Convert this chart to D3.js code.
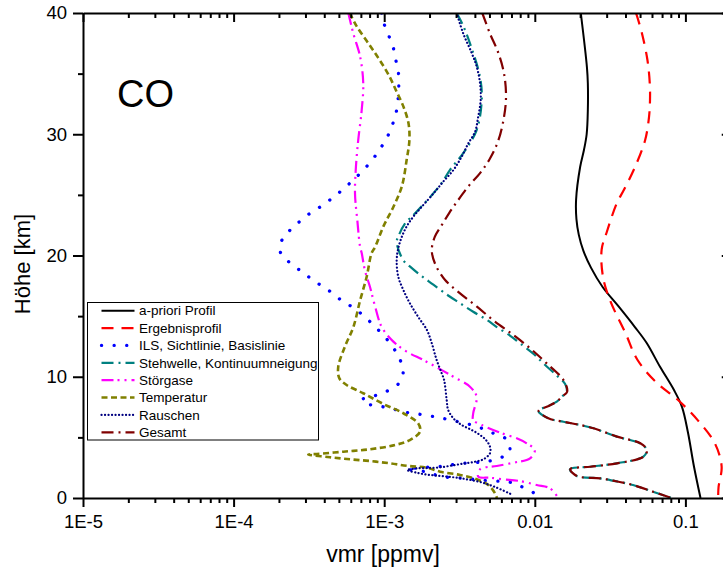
<!DOCTYPE html>
<html>
<head>
<meta charset="utf-8">
<script src="https://cdn.jsdelivr.net/npm/d3@7/dist/d3.min.js"></script>
<style>
  body { margin: 0; background: #fff; }
  svg { display: block; font-family: Arial, "Liberation Sans", sans-serif; }
</style>
</head>
<body>
<div class="render"></div>
<script>
"use strict";

// [Höhe km, vmr ppmv]
var aprioriProfil = [[0, 0.126], [2.6, 0.114], [5.4, 0.104], [7.5, 0.095], [8.9, 0.084], [10.8, 0.068], [12.8, 0.0552], [14.1, 0.0462], [15.8, 0.036], [17.4, 0.0282], [19.0, 0.0236], [20.4, 0.0210], [21.7, 0.0196], [23.0, 0.0189], [24.6, 0.0188], [27.3, 0.020], [28.7, 0.0212], [30.0, 0.0221], [32.0, 0.0225], [34.2, 0.0225], [35.5, 0.0222], [40, 0.0202]];

var ergebnisprofil = [[0, 0.165], [0.9, 0.166], [2.6, 0.174], [4.5, 0.157], [6.4, 0.121], [8.1, 0.089], [9.5, 0.0645], [11.4, 0.048], [13.6, 0.040], [16.3, 0.0316], [18.2, 0.0284], [20.5, 0.0278], [21.9, 0.030], [24.3, 0.035], [25.4, 0.039], [27.3, 0.0463], [29.5, 0.054], [31.4, 0.0573], [32.8, 0.0582], [34.2, 0.058], [36.1, 0.056], [38.4, 0.0513], [40, 0.047]];

var ils = [[40, 0.00096], [39.4, 0.00098], [38.4, 0.00105], [37.3, 0.00114], [36.2, 0.00119], [35.2, 0.00124], [34.2, 0.00125], [33.1, 0.00124], [32.0, 0.00121], [31.0, 0.00115], [29.9, 0.00106], [28.8, 0.00094], [27.7, 0.00081], [26.6, 0.00067], [25.7, 0.00056], [24.8, 0.00046], [24.0, 0.000375], [23.3, 0.000307], [22.4, 0.000253], [21.5, 0.000214], [20.6, 0.000203], [20.0, 0.000209], [19.4, 0.000237], [18.6, 0.000288], [17.8, 0.000353], [17.1, 0.00043], [16.3, 0.00052], [15.6, 0.00064], [14.7, 0.00078], [13.7, 0.00094], [12.6, 0.00112], [11.6, 0.00125], [10.6, 0.00134], [9.5, 0.00126], [8.8, 0.00104], [8.4, 0.00085], [8.1, 0.00071], [7.8, 0.00075], [7.6, 0.00091], [7.4, 0.0011], [7.1, 0.00135], [6.95, 0.00164], [6.76, 0.00202], [6.57, 0.00245], [6.33, 0.0030], [6.1, 0.00362], [5.75, 0.00444], [5.34, 0.0053], [4.78, 0.00657], [3.74, 0.00677], [3.22, 0.00559], [2.97, 0.0046], [2.91, 0.00371], [2.8, 0.00303], [2.64, 0.00253], [2.58, 0.00209], [2.47, 0.00165], [2.39, 0.00141], [2.25, 0.00166], [2.12, 0.00202], [1.81, 0.00228], [1.65, 0.00319], [1.4, 0.00518], [1.34, 0.00667], [0.99, 0.00797], [0.44, 0.00978], [0.1, 0.0101]];

var stehwelle = [[40, 0.00303], [39.0, 0.00333], [37.5, 0.00371], [34.7, 0.00433], [32.8, 0.00444], [30.35, 0.00411], [28.45, 0.00335], [27.05, 0.00273], [25.8, 0.00235], [23.6, 0.00164], [22.6, 0.00137], [21.55, 0.00124], [21.1, 0.00121], [19.6, 0.00134], [19.1, 0.00148], [18.3, 0.00177], [17.6, 0.00212], [16.7, 0.00266], [16.06, 0.00319], [15.36, 0.0039], [14.7, 0.00479], [14.1, 0.00559], [13.4, 0.00684], [12.76, 0.00797], [11.9, 0.00978], [11.1, 0.0114], [10.1, 0.014], [9.4, 0.0159], [8.77, 0.0163], [8.35, 0.0151], [7.94, 0.014], [7.53, 0.012], [7.2, 0.01055], [6.57, 0.0123], [6.29, 0.0155], [6.02, 0.020], [5.75, 0.0245], [5.06, 0.035], [4.51, 0.0499], [3.96, 0.0554], [3.41, 0.0526], [2.86, 0.035], [2.58, 0.0233], [2.37, 0.0171], [1.81, 0.019], [1.62, 0.0271], [1.43, 0.033], [1.07, 0.0449], [0.52, 0.0609], [0, 0.081]];

var stoergase = [[40, 0.000578], [38.3, 0.000624], [36.4, 0.000692], [34.2, 0.000726], [32.0, 0.000709], [29.5, 0.000672], [27.3, 0.000649], [25.1, 0.00064], [22.9, 0.000663], [20.7, 0.000692], [20.2, 0.000709], [18.8, 0.000744], [17.4, 0.000805], [15.8, 0.00087], [14.1, 0.000963], [12.9, 0.00115], [12.07, 0.00141], [11.38, 0.00182], [10.7, 0.00229], [10.0, 0.00288], [9.18, 0.00371], [8.35, 0.00411], [6.99, 0.0039], [6.43, 0.0039], [6.02, 0.00444], [5.39, 0.00587], [4.92, 0.00759], [4.51, 0.00883], [3.96, 0.0100], [3.27, 0.0093], [2.91, 0.00721], [2.64, 0.00559], [2.37, 0.00433], [1.76, 0.00421], [1.67, 0.00504], [1.54, 0.00619], [1.40, 0.00797], [1.07, 0.0103], [0.8, 0.0126], [0, 0.0143]];

var temperatur = [[40, 0.00059], [38.9, 0.000657], [37.5, 0.000785], [36.3, 0.000913], [34.9, 0.00107], [33.5, 0.00121], [32.3, 0.00134], [30.9, 0.00145], [29.5, 0.00147], [27.9, 0.00141], [25.7, 0.00131], [24.0, 0.00115], [22.4, 0.000988], [20.7, 0.00087], [20.2, 0.000825], [18.25, 0.000765], [16.3, 0.000692], [14.1, 0.000624], [12.5, 0.000549], [10.8, 0.000495], [9.87, 0.000504], [9.32, 0.000563], [8.64, 0.000726], [7.75, 0.000988], [6.99, 0.00134], [6.16, 0.00168], [5.47, 0.00173], [4.78, 0.00148], [4.37, 0.00118], [4.02, 0.000805], [3.82, 0.000535], [3.63, 0.000357], [3.59, 0.000313], [3.36, 0.000436], [3.19, 0.000593], [3.05, 0.000805], [2.86, 0.00109], [2.64, 0.00145], [2.5, 0.00192], [2.17, 0.00235], [1.9, 0.00319], [1.54, 0.00411], [1.07, 0.00491], [0.39, 0.00544], [0, 0.0056]];

var rauschen = [[40, 0.00303], [38.3, 0.00335], [36.7, 0.00381], [35.6, 0.00411], [34.2, 0.00433], [32.8, 0.00437], [31.45, 0.00421], [30.2, 0.00401], [29.25, 0.00362], [28.15, 0.00327], [27.05, 0.00288], [26.1, 0.00247], [25.1, 0.00212], [24.0, 0.00177], [23.2, 0.00156], [22.4, 0.00141], [21.55, 0.00131], [20.6, 0.00124], [19.6, 0.00121], [18.25, 0.00124], [17.15, 0.00134], [16.06, 0.00148], [14.95, 0.00168], [13.86, 0.00192], [12.76, 0.00207], [11.38, 0.00223], [10.28, 0.00241], [9.73, 0.0025], [8.08, 0.0026], [7.26, 0.00266], [6.57, 0.00288], [6.02, 0.00327], [5.61, 0.00381], [5.2, 0.00433], [4.78, 0.00474], [4.23, 0.00504], [3.69, 0.00504], [3.19, 0.00455], [2.99, 0.00401], [2.86, 0.00344], [2.7, 0.00288], [2.53, 0.00235], [2.47, 0.00195], [2.45, 0.00168], [2.31, 0.00142], [2.06, 0.00168], [1.9, 0.00202], [1.81, 0.00241], [1.71, 0.00288], [1.57, 0.00344], [1.32, 0.00433], [0.91, 0.00544], [0.3, 0.0070]];

var gesamt = [[40, 0.00448], [38.3, 0.00504], [36.7, 0.00573], [35.0, 0.00625], [33.1, 0.00644], [31.45, 0.00625], [29.5, 0.00573], [28.0, 0.00504], [26.8, 0.00433], [25.7, 0.00362], [24.4, 0.00303], [23.5, 0.0027], [22.5, 0.00241], [21.55, 0.00217], [20.45, 0.00207], [19.36, 0.00217], [18.0, 0.00253], [17.0, 0.0031], [15.8, 0.00411], [14.54, 0.00544], [13.44, 0.00721], [12.35, 0.0093], [11.1, 0.012], [9.73, 0.0155], [8.77, 0.0164], [8.35, 0.0151], [7.94, 0.014], [7.53, 0.012], [7.2, 0.0106], [6.57, 0.0123], [6.29, 0.0155], [6.02, 0.0201], [5.75, 0.0246], [5.06, 0.0352], [4.51, 0.0502], [3.96, 0.0556], [3.41, 0.0528], [2.86, 0.0351], [2.58, 0.0234], [2.37, 0.0172], [1.81, 0.0191], [1.62, 0.0272], [1.43, 0.0331], [1.07, 0.045], [0.52, 0.061], [0, 0.081]];

var seriesNames = ["a-priori Profil", "Ergebnisprofil", "ILS, Sichtlinie, Basislinie", "Stehwelle, Kontinuumneigung", "Störgase", "Temperatur", "Rauschen", "Gesamt"];
var seriesData = [aprioriProfil, ergebnisprofil, ils, stehwelle, stoergase, temperatur, rauschen, gesamt];

var xTicks = [1e-5, 1e-4, 1e-3, 0.01, 0.1];
var xTickLabels = ["1E-5", "1E-4", "1E-3", "0.01", "0.1"];
var yTicks = [0, 10, 20, 30, 40];
var yMinorTicks = [5, 15, 25, 35];

// styles
var colors = ["#000000", "#ff0000", "#0000ff", "#008080", "#ff00ff", "#808000", "#000080", "#800000"];
var dashes = ["none", "12,8", "0.1,12.5", "12,5,2,5", "12,4,2,5,2,5", "6,3.5", "0.1,3.4", "12,5,2,5"];
var widths = [2, 2.2, 3.3, 2.2, 2.2, 2.6, 2.2, 2.2];
var caps = ["butt", "butt", "round", "butt", "butt", "butt", "round", "butt"];

var w = 723, h = 573;
var padLeft = 83, padTop = 13, padBottom = 498;
var decade = 150.6;

var xMinor = [];
for (var e = -5; e < 0; e++) {
   for (var m = 2; m <= 9; m++) {
      var v = m * Math.pow(10, e);
      if (v <= 0.2) xMinor.push(v);
   }
}

var x = d3.scaleLog().domain([1e-5, 0.2]).range([padLeft, padLeft + decade * Math.log10(0.2 / 1e-5)]);
var y = d3.scaleLinear().domain([0, 40]).range([padBottom, padTop]);
var padRight = x(0.2);

var svg = d3.select(".render").append("svg").attr("width", w).attr("height", h);

svg.append("defs").append("clipPath").attr("id", "plot")
   .append("rect").attr("x", padLeft).attr("y", padTop).attr("width", padRight - padLeft).attr("height", padBottom - padTop);

var line = d3.line()
   .x(function (d) { return x(d[1]); })
   .y(function (d) { return y(d[0]); })
   .curve(d3.curveCatmullRom.alpha(0.5));

var curves = svg.append("g").attr("clip-path", "url(#plot)");
seriesData.forEach(function (data, i) {
   var sorted = data.slice().sort(function (a, b) { return b[0] - a[0]; });
   curves.append("path").datum(sorted).attr("d", line)
      .attr("fill", "none").attr("stroke", colors[i]).attr("stroke-width", widths[i])
      .attr("stroke-dasharray", dashes[i]).attr("stroke-linecap", caps[i]).attr("stroke-linejoin", "round");
});

function styleAxis(g) {
   g.selectAll("path, line").attr("stroke", "#000").attr("stroke-width", 2);
   g.selectAll("text").attr("fill", "#000").style("font-size", "18.5px").style("font-family", "Arial, 'Liberation Sans', sans-serif");
}

// bottom
svg.append("g").attr("transform", "translate(0," + padBottom + ")")
   .call(d3.axisBottom(x).tickValues(xTicks).tickFormat(function (d, i) { return xTickLabels[i]; }).tickSizeInner(9).tickSizeOuter(0).tickPadding(8))
   .call(styleAxis);
svg.append("g").attr("transform", "translate(0," + padBottom + ")")
   .call(d3.axisBottom(x).tickValues(xMinor).tickFormat("").tickSize(5))
   .call(styleAxis).call(function (g) { g.select(".domain").remove(); });

// top
svg.append("g").attr("transform", "translate(0," + padTop + ")")
   .call(d3.axisTop(x).tickValues(xTicks).tickFormat("").tickSizeInner(-9).tickSizeOuter(0))
   .call(styleAxis);
svg.append("g").attr("transform", "translate(0," + padTop + ")")
   .call(d3.axisTop(x).tickValues(xMinor).tickFormat("").tickSize(-5))
   .call(styleAxis).call(function (g) { g.select(".domain").remove(); });

// left
svg.append("g").attr("transform", "translate(" + padLeft + ",0)")
   .call(d3.axisLeft(y).tickValues(yTicks).tickSizeInner(10).tickSizeOuter(0).tickPadding(6))
   .call(styleAxis);
svg.append("g").attr("transform", "translate(" + padLeft + ",0)")
   .call(d3.axisLeft(y).tickValues(yMinorTicks).tickFormat("").tickSize(5))
   .call(styleAxis).call(function (g) { g.select(".domain").remove(); });

// right
svg.append("g").attr("transform", "translate(" + padRight + ",0)")
   .call(d3.axisRight(y).tickValues(yTicks).tickFormat("").tickSizeInner(-9).tickSizeOuter(0))
   .call(styleAxis);
svg.append("g").attr("transform", "translate(" + padRight + ",0)")
   .call(d3.axisRight(y).tickValues(yMinorTicks).tickFormat("").tickSize(-5))
   .call(styleAxis).call(function (g) { g.select(".domain").remove(); });

// titles
svg.append("text").text("vmr [ppmv]").attr("x", 383).attr("y", 562)
   .attr("text-anchor", "middle").style("font-size", "23px");
svg.append("text").text("Höhe [km]").attr("transform", "translate(30,264)rotate(-90)")
   .attr("text-anchor", "middle").style("font-size", "22px");
svg.append("text").text("CO").attr("x", 117).attr("y", 107).style("font-size", "38px");

// legend
var lg = svg.append("g");
lg.append("rect").attr("x", 87.5).attr("y", 302.5).attr("width", 231).attr("height", 137.5)
   .attr("fill", "#fff").attr("stroke", "#000").attr("stroke-width", 1);
seriesNames.forEach(function (name, i) {
   var cy = 310.7 + i * 17.37;
   lg.append("line").attr("x1", 101.5).attr("x2", 134.5).attr("y1", cy).attr("y2", cy)
      .attr("stroke", colors[i]).attr("stroke-width", widths[i]).attr("stroke-dasharray", dashes[i]).attr("stroke-linecap", caps[i]);
   lg.append("text").text(name).attr("x", 139).attr("y", cy).attr("dy", "0.35em").style("font-size", "13.5px");
});
</script>
</body>
</html>
